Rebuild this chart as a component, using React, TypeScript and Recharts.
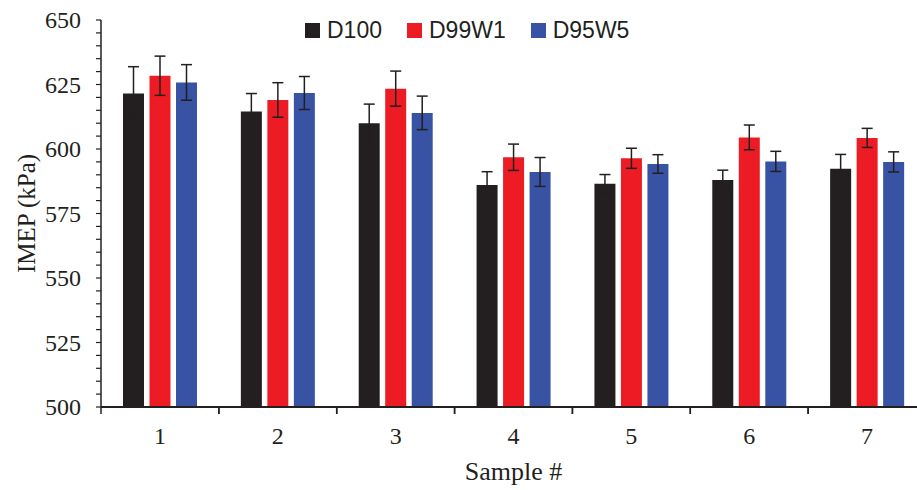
import React from 'react';
import { BarChart, Bar, XAxis, YAxis, ErrorBar, Legend } from 'recharts';

const categories = ['1', '2', '3', '4', '5', '6', '7'];
const d100 = [621.5, 614.5, 610.0, 586.0, 586.5, 588.0, 592.3];
const d100Err = [10.4, 7.0, 7.4, 5.2, 3.6, 3.8, 5.6];
const d99w1 = [628.4, 619.0, 623.4, 596.8, 596.4, 604.5, 604.3];
const d99w1Err = [7.6, 6.7, 6.8, 5.1, 3.9, 4.8, 3.7];
const d95w5 = [625.8, 621.7, 614.0, 591.1, 594.2, 595.2, 595.0];
const d95w5Err = [6.9, 6.4, 6.5, 5.6, 3.6, 3.9, 3.9];
const yTicks = Array.from({ length: 31 }, (_, i) => 500 + i * 5);

const seriesNames = ['D100', 'D99W1', 'D95W5'];
const colors = ['#231f20', '#ed1c24', '#3953a4'];

const data = categories.map((c, i) => ({
  name: c,
  D100: d100[i],
  D100e: d100Err[i],
  D99W1: d99w1[i],
  D99W1e: d99w1Err[i],
  D95W5: d95w5[i],
  D95W5e: d95w5Err[i],
}));

const SERIF = '"Liberation Serif", "Times New Roman", serif';
const INK = '#231f20';

const YTick = (props: any) => {
  const { x, y, payload } = props;
  if (payload.value % 25 !== 0) return null;
  return (
    <text x={x} y={y} dy="0.35em" textAnchor="end" fontFamily={SERIF} fontSize={24} fill={INK}>
      {payload.value}
    </text>
  );
};

const XTick = (props: any) => {
  const { x, y, payload } = props;
  const off = payload && typeof payload.offset === 'number' && payload.offset > 0 ? payload.offset : 58.9;
  return (
    <g>
      <line x1={x - off} x2={x - off} y1={y} y2={y + 7} stroke={INK} strokeWidth={1.5} />
      <line x1={x + off} x2={x + off} y1={y} y2={y + 7} stroke={INK} strokeWidth={1.5} />
      <text x={x} y={y + 37} textAnchor="middle" fontFamily={SERIF} fontSize={24} fill={INK}>
        {payload.value}
      </text>
    </g>
  );
};

const LegendContent = () => (
  <div style={{ display: 'flex', alignItems: 'center', fontFamily: '"Liberation Sans", Arial, sans-serif', fontSize: 23, color: INK }}>
    {seriesNames.map((n, i) => (
      <div key={n} style={{ display: 'flex', alignItems: 'center', marginRight: 25 }}>
        <div style={{ width: 15, height: 15, background: colors[i], marginRight: 7 }} />
        <span style={{ lineHeight: '24px' }}>{n}</span>
      </div>
    ))}
  </div>
);

export default function App() {
  return (
    <div style={{ position: 'absolute', left: 0, top: 0, width: 917, height: 490, overflow: 'hidden', background: '#fff' }}>
      <BarChart
        width={930}
        height={490}
        data={data}
        margin={{ top: 20, right: 4, left: 0, bottom: 0 }}
        barGap={5.5}
        barSize={21}
      >
        <XAxis
          dataKey="name"
          height={83}
          tickLine={false}
          tickSize={0}
          tickMargin={0}
          tick={<XTick />}
          axisLine={{ stroke: INK, strokeWidth: 2 }}
          label={{ value: 'Sample #', position: 'insideBottom', offset: 10, fontFamily: SERIF, fontSize: 26, fill: INK }}
        />
        <YAxis
          width={101}
          domain={[500, 650]}
          ticks={yTicks}
          interval={0}
          tickSize={5}
          tickMargin={15}
          tick={<YTick />}
          tickLine={{ stroke: INK, strokeWidth: 1.2 }}
          axisLine={{ stroke: INK, strokeWidth: 1.5 }}
          label={{ value: 'IMEP (kPa)', angle: -90, position: 'center', dx: -24, fontFamily: SERIF, fontSize: 25, fill: INK }}
        />
        <Legend
          verticalAlign="middle"
          align="center"
          content={<LegendContent />}
          wrapperStyle={{ position: 'absolute', top: 18, left: 305, width: 'auto' }}
        />
        {seriesNames.map((n, i) => (
          <Bar key={n} dataKey={n} fill={colors[i]} isAnimationActive={false}>
            <ErrorBar dataKey={n + 'e'} width={5.5} stroke={INK} strokeWidth={1.5} direction="y" />
          </Bar>
        ))}
      </BarChart>
    </div>
  );
}
